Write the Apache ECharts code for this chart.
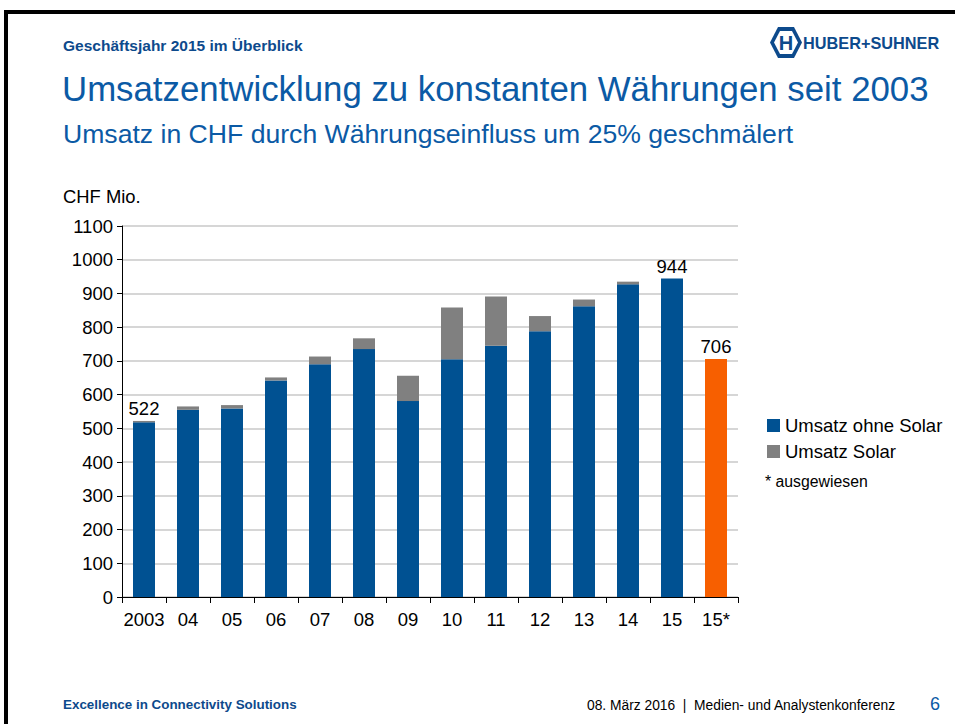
<!DOCTYPE html>
<html>
<head>
<meta charset="utf-8">
<script src="https://cdn.jsdelivr.net/npm/echarts@6/dist/echarts.min.js"></script>
<style>
html,body{margin:0;padding:0;background:#fff;}
#chart{width:955px;height:724px;}
</style>
</head>
<body>
<div id="chart"></div>
<script>
var categories = ['2003','04','05','06','07','08','09','10','11','12','13','14','15','15*'];
var ohneSolar = [518, 555, 559, 642, 690, 735, 581, 705, 745, 788, 862, 927, 944, null];
var solar     = [4, 10, 10, 9, 23, 32, 75, 153, 146, 45, 20, 8, null, null];
var ausgewiesen = [null, null, null, null, null, null, null, null, null, null, null, null, null, 706];
var labelledIdx = [0, 12, 13];
var yTicks = [0,100,200,300,400,500,600,700,800,900,1000,1100];

var BLUE = '#005192', GREY = '#808080', ORANGE = '#f75f00';
var TITLE_BLUE = '#0b5aa5', DARK_BLUE = '#0d4a8c';
var ff = '"Liberation Sans", Arial, sans-serif';

function total(i){ return (ohneSolar[i]||0) + (solar[i]||0) + (ausgewiesen[i]||0); }
function topSeriesHas(arr, i, later){
  if (arr[i] == null) return false;
  for (var k=0;k<later.length;k++){ if (later[k][i] != null) return false; }
  return true;
}
var lbl = {show:true, position:'top', distance:3, fontSize:18.5, color:'#000', fontFamily:ff};
function build(arr, later){
  return arr.map(function(v,i){
    if (v == null) return '-';
    if (labelledIdx.indexOf(i) >= 0 && topSeriesHas(arr, i, later)){
      return {value:v, label:Object.assign({}, lbl, {formatter: String(total(i))})};
    }
    return v;
  });
}

var chart = echarts.init(document.getElementById('chart'), null, {renderer:'svg'});

var option = {
  backgroundColor:'#fff',
  animation:false,
  grid:{left:122, right:217, top:226, bottom:127, containLabel:false},
  legend:{
    data:['Umsatz ohne Solar','Umsatz Solar'],
    orient:'vertical', left:762, top:411,
    icon:'rect', itemWidth:13, itemHeight:13, itemGap:7,
    textStyle:{fontSize:18.5, lineHeight:18, color:'#000', fontFamily:ff},
    selectedMode:false
  },
  xAxis:{
    type:'category', data:categories,
    axisLine:{lineStyle:{color:'#000', width:1}},
    axisTick:{show:true, length:6, lineStyle:{color:'#000'}},
    axisLabel:{interval:0, fontSize:18.5, color:'#000', fontFamily:ff, margin:13}
  },
  yAxis:{
    type:'value', min:0, max:1100, interval:100,
    axisLine:{show:true, lineStyle:{color:'#000', width:1}},
    axisTick:{show:true, length:5, lineStyle:{color:'#000'}},
    axisLabel:{fontSize:18.5, color:'#000', fontFamily:ff, margin:9,
      formatter:function(v){ return String(v); }},
    splitLine:{lineStyle:{color:'#c8c8c8', width:1.5}}
  },
  series:[
    {name:'Umsatz ohne Solar', type:'bar', stack:'s', barWidth:'50%', itemStyle:{color:BLUE},
      data: build(ohneSolar, [solar, ausgewiesen])},
    {name:'Umsatz Solar', type:'bar', stack:'s', barWidth:'50%', itemStyle:{color:GREY},
      data: build(solar, [ausgewiesen])},
    {name:'Umsatz ausgewiesen', type:'bar', stack:'s', barWidth:'50%', itemStyle:{color:ORANGE},
      data: build(ausgewiesen, [])}
  ],
  graphic:[
    {type:'rect', shape:{x:4, y:10, width:951, height:4}, style:{fill:'#000'}, silent:true},
    {type:'rect', shape:{x:4, y:10, width:4, height:714}, style:{fill:'#000'}, silent:true},
    {type:'text', left:63, top:37, style:{text:'Geschäftsjahr 2015 im Überblick', fontSize:15.5, fontWeight:'bold', fill:DARK_BLUE, fontFamily:ff}},
    {type:'polygon', shape:{points:[[778,27],[794,27],[802,42.5],[794,58],[778,58],[770,42.5]]}, style:{fill:DARK_BLUE}},
    {type:'polygon', shape:{points:[[780,31],[792,31],[798,42.5],[792,54],[780,54],[774,42.5]]}, style:{fill:'#fff'}},
    {type:'text', x:786, y:43, style:{text:'H', fontSize:20, fontWeight:'bold', fill:DARK_BLUE, fontFamily:ff, align:'center', verticalAlign:'middle'}},
    {type:'text', left:803, top:35, style:{text:'HUBER+SUHNER', fontSize:16.3, fontWeight:'bold', fill:DARK_BLUE, fontFamily:ff}},
    {type:'text', left:62, top:71, style:{text:'Umsatzentwicklung zu konstanten Währungen seit 2003', fontSize:34.8, fill:TITLE_BLUE, fontFamily:ff}},
    {type:'text', left:63, top:120, style:{text:'Umsatz in CHF durch Währungseinfluss um 25% geschmälert', fontSize:26.6, fill:TITLE_BLUE, fontFamily:ff}},
    {type:'text', left:63, top:187, style:{text:'CHF Mio.', fontSize:18.4, fill:'#000', fontFamily:ff}},
    {type:'text', left:765, top:473, style:{text:'* ausgewiesen', fontSize:15.8, fill:'#000', fontFamily:ff}},
    {type:'text', left:63, top:698, style:{text:'Excellence in Connectivity Solutions', fontSize:13.4, fontWeight:'bold', fill:DARK_BLUE, fontFamily:ff}},
    {type:'text', left:587, top:698, style:{text:'08. März 2016  |  Medien- und Analystenkonferenz', fontSize:13.8, fill:'#000', fontFamily:ff}},
    {type:'text', left:930, top:695, style:{text:'6', fontSize:18, fill:TITLE_BLUE, fontFamily:ff}}
  ]
};
chart.setOption(option);
</script>
</body>
</html>
